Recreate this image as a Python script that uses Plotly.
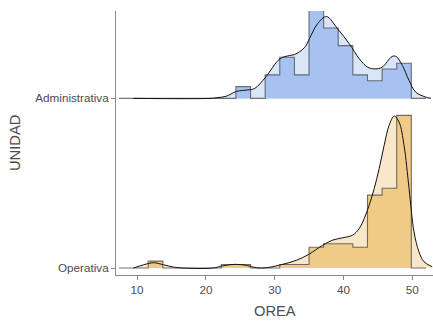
import numpy as np
import plotly.graph_objects as go

# ---------------- data ----------------
groups = ["Operativa", "Administrativa"]
group_pos = [1, 2]

bin_start = 7.372
bin_width = 2.124

counts_operativa = [0, 0, 2, 0, 0, 0, 0, 1, 1, 0, 0, 1, 1, 6, 7, 7, 6, 21, 23, 44, 0]
counts_administrativa = [0, 0, 0, 0, 0, 0, 0, 0, 2, 0, 4, 7, 4, 15, 12, 9, 4, 3, 5, 6, 0]

dens_x_operativa = [9.47, 10.96, 12.40, 13.85, 15.30, 16.70, 21.0, 22.52, 24.22, 25.91, 27.35,
                    28.80, 30.72, 33.14, 34.96, 36.98, 38.43, 39.87, 41.32, 42.29, 43.01, 43.73,
                    44.46, 45.18, 45.90, 46.62, 47.35, 48.07, 48.79, 49.52, 50.24, 50.96, 51.69, 52.88]
dens_y_operativa = [0.0, 0.0037, 0.0060, 0.0037, 0.0011, 0.0, 0.0, 0.0026, 0.0042, 0.0030, 0.0003,
                    0.0003, 0.0034, 0.0087, 0.0155, 0.0259, 0.0316, 0.0342, 0.0372, 0.0448, 0.0561, 0.0711,
                    0.0899, 0.1125, 0.1387, 0.1613, 0.1718, 0.1650, 0.1387, 0.0899, 0.0409, 0.0184, 0.0071, 0.0015]

dens_x_administrativa = [9.47, 20.6, 21.76, 22.91, 24.46, 26.10, 27.11, 28.65, 30.77, 32.17, 32.89,
                         34.34, 35.06, 36.22, 37.52, 39.15, 40.84, 42.29, 43.49, 44.6, 45.61, 47.06,
                         47.64, 48.55, 49.52, 50.48, 51.93, 52.7]
dens_y_administrativa = [0.0, 0.0, 0.0009, 0.0023, 0.0079, 0.0096, 0.0113, 0.0237, 0.0448, 0.0485, 0.0496,
                         0.0575, 0.0677, 0.0843, 0.0925, 0.0786, 0.0617, 0.0448, 0.0353, 0.0333, 0.0353, 0.0474,
                         0.0474, 0.0372, 0.0203, 0.0071, 0.0015, 0.0]

x_ticks = [10, 20, 30, 40, 50]

# ---------------- styling ----------------
hist_fill = {"Operativa": "#F0CB88", "Administrativa": "#A5C2F0"}
dens_fill = {"Operativa": "#F8E7C9", "Administrativa": "#DAE6F8"}
axis_col = "#8a8a8a"
text_col = "#4d4d4d"
font_family = "Liberation Sans, Arial, sans-serif"

counts = {"Operativa": counts_operativa, "Administrativa": counts_administrativa}
dens_x = {"Operativa": dens_x_operativa, "Administrativa": dens_x_administrativa}
dens_y = {"Operativa": dens_y_operativa, "Administrativa": dens_y_administrativa}

# histogram densities
hist_dens = {}
for g in groups:
    c = np.array(counts[g], dtype=float)
    hist_dens[g] = c / (c.sum() * bin_width)
max_h = max(v.max() for v in hist_dens.values())
scale = 0.9 / max_h

fig = go.Figure()

for g, pos in zip(groups, group_pos):
    c = hist_dens[g]
    edges = bin_start + bin_width * np.arange(len(c) + 1)
    dx = np.array(dens_x[g])
    dy = pos + np.array(dens_y[g]) * scale

    # baseline for density fill
    fig.add_trace(go.Scatter(x=[dx[0], dx[-1]], y=[pos, pos], mode="lines",
                             line=dict(width=0, color="rgba(0,0,0,0)"),
                             hoverinfo="skip", showlegend=False))
    # density fill
    fig.add_trace(go.Scatter(x=dx, y=dy, mode="lines", fill="tonexty",
                             fillcolor=dens_fill[g],
                             line=dict(width=0, shape="spline", smoothing=1, color="rgba(0,0,0,0)"),
                             hoverinfo="skip", showlegend=False))

    # histogram step path
    sx = [edges[0]]
    sy = [pos]
    for k in range(len(c)):
        h = pos + c[k] * scale
        sx += [edges[k], edges[k + 1]]
        sy += [h, h]
    sx.append(edges[-1])
    sy.append(pos)
    fig.add_trace(go.Scatter(x=sx, y=sy, mode="lines", fill="toself",
                             fillcolor=hist_fill[g], line=dict(width=0),
                             hoverinfo="skip", showlegend=False))
    fig.add_trace(go.Scatter(x=sx, y=sy, mode="lines",
                             line=dict(width=1.1, color="rgba(70,70,70,0.75)"),
                             hoverinfo="skip", showlegend=False))

    # density outline
    fig.add_trace(go.Scatter(x=dx, y=dy, mode="lines",
                             line=dict(width=1, color="#111111", shape="spline", smoothing=1),
                             hoverinfo="skip", showlegend=False))

fig.update_layout(
    width=433, height=322,
    margin=dict(l=116, r=0, t=11, b=47, autoexpand=False),
    plot_bgcolor="white", paper_bgcolor="white",
    font=dict(family=font_family, color=text_col),
    xaxis=dict(range=[6.94, 53.0], tickvals=x_ticks, ticktext=[str(t) for t in x_ticks],
               showline=True, linecolor=axis_col, linewidth=1,
               ticks="outside", ticklen=4, tickcolor=axis_col, tickwidth=1,
               showgrid=False, zeroline=False, automargin=False,
               tickfont=dict(size=11.7, color=text_col)),
    yaxis=dict(range=[0.959, 2.515], tickvals=group_pos, ticktext=groups,
               showline=True, linecolor=axis_col, linewidth=1,
               ticks="outside", ticklen=4, tickcolor=axis_col, tickwidth=1,
               showgrid=False, zeroline=False, automargin=False,
               tickfont=dict(size=11.7, color=text_col)),
    annotations=[
        dict(text="OREA", xref="paper", yref="paper", x=0.5, y=-36 / 264,
             xanchor="center", yanchor="middle", showarrow=False,
             font=dict(size=14.7, color=text_col)),
        dict(text="UNIDAD", xref="paper", yref="paper", x=-101 / 317, y=0.5,
             xanchor="center", yanchor="middle", showarrow=False, textangle=-90,
             font=dict(size=14.7, color=text_col)),
    ],
)

fig.write_html("out.html",
               config={"displayModeBar": False, "staticPlot": True},
               post_script="document.body.style.margin='0';document.body.style.overflow='hidden';")
